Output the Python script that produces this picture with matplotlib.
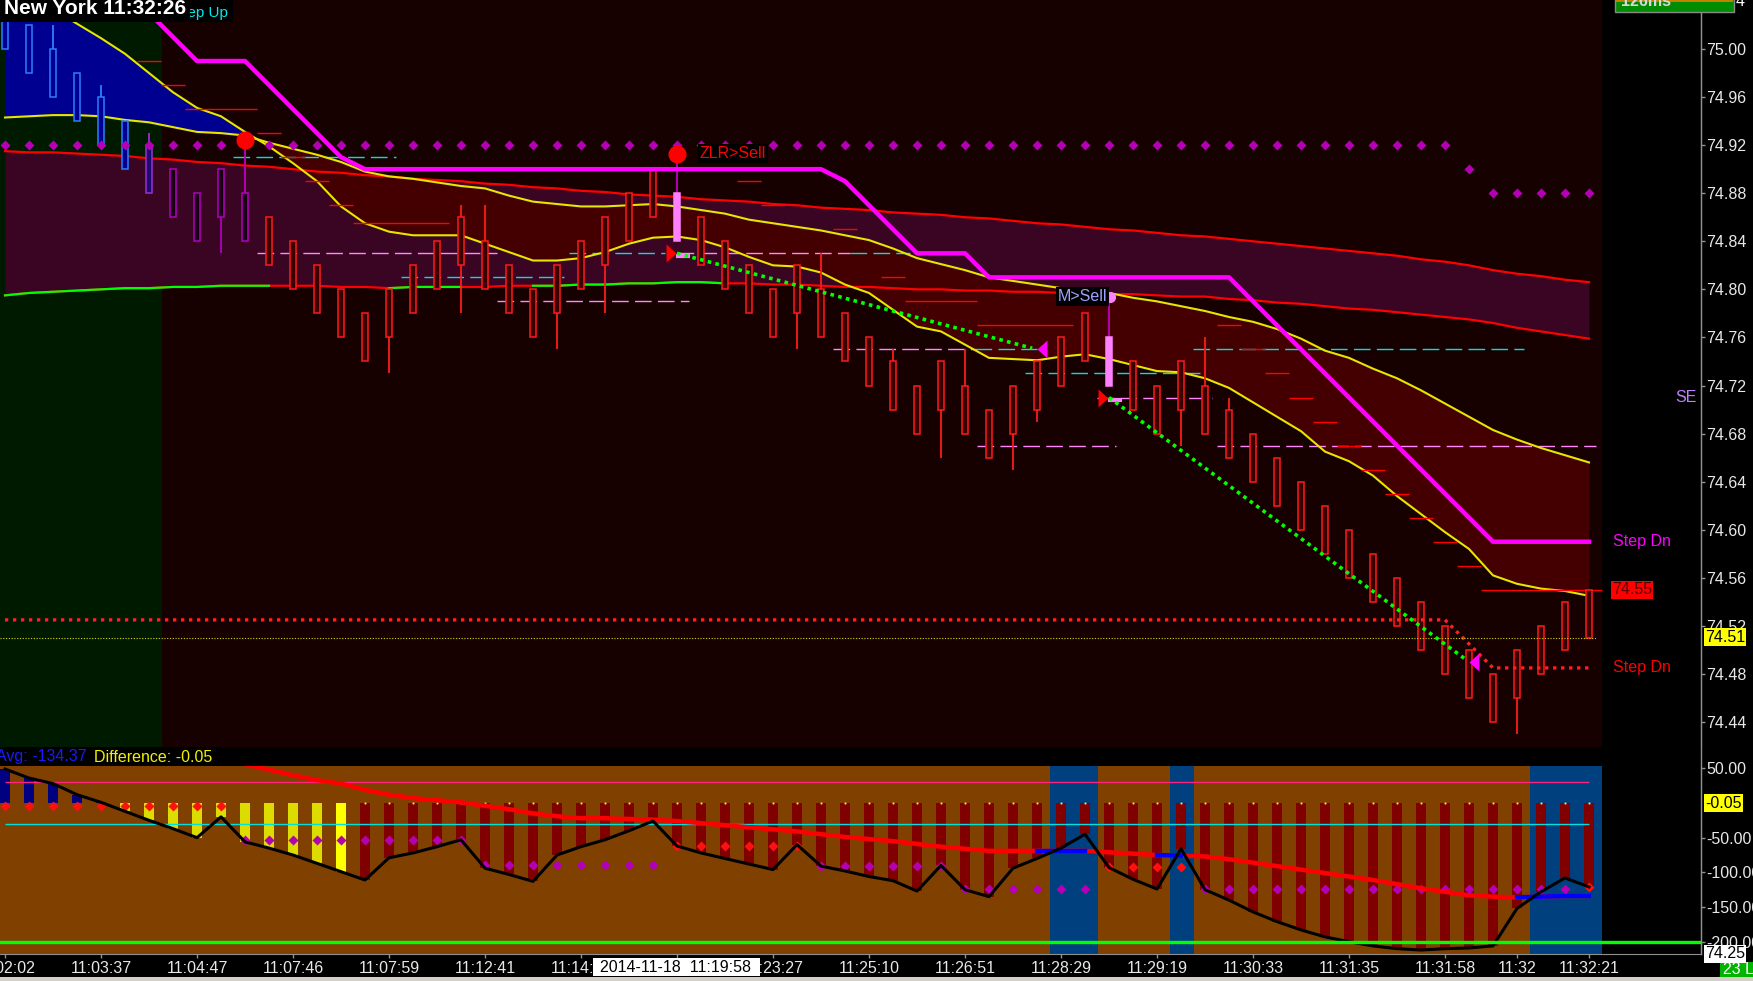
import matplotlib
matplotlib.use("Agg")
import matplotlib.pyplot as plt
from matplotlib.patches import Rectangle
from matplotlib.lines import Line2D
import numpy as np

plt.rcParams['font.family'] = ['Liberation Sans', 'DejaVu Sans']

W, H = 1753, 981          # output size in pixels

# ---------------------------------------------------------------------------
# Data (one entry per bar, bar index 0..66)
# ---------------------------------------------------------------------------
BODY_TOP = [75.04, 75.02, 75.00, 74.98, 74.96, 74.94, 74.92, 74.90, 74.88, 74.90,
            74.88, 74.86, 74.84, 74.82, 74.80, 74.78, 74.80, 74.82, 74.84, 74.86,
            74.84, 74.82, 74.80, 74.82, 74.84, 74.86, 74.88, 74.90, 74.88, 74.86,
            74.84, 74.82, 74.80, 74.82, 74.80, 74.78, 74.76, 74.74, 74.72, 74.74,
            74.72, 74.70, 74.72, 74.74, 74.76, 74.78, 74.76, 74.74, 74.72, 74.74,
            74.72, 74.70, 74.68, 74.66, 74.64, 74.62, 74.60, 74.58, 74.56, 74.54,
            74.52, 74.50, 74.48, 74.50, 74.52, 74.54, 74.55]
BODY_H = 0.04
WICK_HI = {2: 75.02, 4: 74.97, 6: 74.93, 10: 74.924, 19: 74.87, 20: 74.87,
           28: 74.913, 34: 74.83, 37: 74.75, 40: 74.75, 46: 74.794, 50: 74.76,
           51: 74.71}
WICK_LO = {9: 74.83, 16: 74.73, 19: 74.78, 23: 74.75, 25: 74.78, 33: 74.75,
           39: 74.66, 42: 74.65, 43: 74.69, 49: 74.67, 63: 74.43}
# (first bar, last bar, fill, edge)
CANDLE_STYLE = [(0, 5, '#000090', '#2a7fff'), (6, 6, '#1c0a70', '#9a30d0'),
                (7, 10, '#1a0012', '#b000c0'), (11, 66, '#3a0000', '#ff1a1a')]
PINK_BARS = [28, 46]

# fast / slow averages (cloud)
FAST = [75.058, 75.046, 75.033, 75.021, 75.009, 74.996, 74.980, 74.964, 74.951, 74.944,
        74.931, 74.919, 74.905, 74.890, 74.869, 74.855, 74.848, 74.845, 74.845, 74.845,
        74.838, 74.831, 74.824, 74.824, 74.826, 74.831, 74.838, 74.843, 74.844, 74.841,
        74.835, 74.827, 74.820, 74.819, 74.814, 74.804, 74.797, 74.783, 74.769, 74.765,
        74.754, 74.743, 74.742, 74.741, 74.744, 74.746, 74.742, 74.737, 74.732, 74.731,
        74.726, 74.718, 74.706, 74.694, 74.682, 74.665, 74.657, 74.645, 74.628, 74.613,
        74.598, 74.584, 74.562, 74.555, 74.551, 74.549, 74.545]
SLOW = [74.943, 74.944, 74.945, 74.945, 74.944, 74.941, 74.939, 74.935, 74.931, 74.930,
        74.928, 74.922, 74.917, 74.912, 74.906, 74.898, 74.894, 74.892, 74.889, 74.886,
        74.884, 74.878, 74.873, 74.871, 74.869, 74.869, 74.870, 74.871, 74.869, 74.866,
        74.863, 74.858, 74.855, 74.852, 74.849, 74.845, 74.841, 74.834, 74.826, 74.821,
        74.816, 74.810, 74.807, 74.804, 74.801, 74.799, 74.797, 74.793, 74.790, 74.786,
        74.782, 74.777, 74.773, 74.767, 74.759, 74.749, 74.743, 74.734, 74.726, 74.716,
        74.705, 74.694, 74.683, 74.675, 74.668, 74.662, 74.656]

# upper / lower band
BAND_UP = [74.915, 74.914, 74.914, 74.913, 74.912, 74.911, 74.909, 74.908, 74.906, 74.905,
           74.903, 74.902, 74.900, 74.898, 74.897, 74.895, 74.894, 74.892, 74.891, 74.890,
           74.888, 74.887, 74.885, 74.884, 74.882, 74.881, 74.879, 74.878, 74.877, 74.875,
           74.874, 74.873, 74.871, 74.870, 74.868, 74.867, 74.866, 74.864, 74.863, 74.862,
           74.860, 74.859, 74.857, 74.855, 74.854, 74.852, 74.850, 74.849, 74.847, 74.845,
           74.844, 74.842, 74.840, 74.838, 74.836, 74.834, 74.832, 74.830, 74.828, 74.825,
           74.823, 74.820, 74.816, 74.813, 74.811, 74.808, 74.806]
BAND_LO = [74.795, 74.797, 74.798, 74.799, 74.800, 74.801, 74.801, 74.802, 74.802, 74.803,
           74.803, 74.803, 74.803, 74.803, 74.802, 74.802, 74.801, 74.802, 74.802, 74.802,
           74.802, 74.803, 74.803, 74.803, 74.804, 74.804, 74.805, 74.805, 74.806, 74.806,
           74.805, 74.805, 74.804, 74.804, 74.803, 74.802, 74.802, 74.801, 74.800, 74.800,
           74.799, 74.799, 74.798, 74.798, 74.797, 74.797, 74.796, 74.796, 74.795, 74.794,
           74.794, 74.792, 74.791, 74.789, 74.788, 74.786, 74.784, 74.783, 74.781, 74.779,
           74.777, 74.775, 74.772, 74.768, 74.765, 74.762, 74.759]
BAND_LO_GREEN = [(0, 11), (16, 19), (22, 30)]

# magenta step line vertices
STEP_I = [5, 8, 10, 14, 15, 34, 35, 38, 40, 41, 51, 62, 66]
STEP_P = [75.05, 74.99, 74.99, 74.91, 74.90, 74.90, 74.89, 74.83, 74.83, 74.81, 74.81, 74.59, 74.59]

# red dotted "Step Dn" line vertices
STOP_I = [0, 60, 62, 66]
STOP_P = [74.525, 74.525, 74.485, 74.485]

# diamond dots row
DOT_SEGMENTS = [(0, 60, 74.92), (61, 61, 74.90), (62, 66, 74.88)]

# short red marks (first bar, last bar, price)
RED_MARKS = [(6, 6, 74.99), (7, 7, 74.97), (8, 10, 74.95), (11, 11, 74.93), (12, 12, 74.91),
             (13, 13, 74.89), (14, 14, 74.87), (15, 18, 74.855), (31, 31, 74.89),
             (32, 32, 74.87), (35, 35, 74.85), (37, 37, 74.81), (38, 40, 74.79),
             (41, 44, 74.77), (51, 51, 74.77), (52, 52, 74.75), (53, 53, 74.73),
             (54, 54, 74.71), (55, 55, 74.69), (56, 56, 74.67), (57, 57, 74.65),
             (58, 58, 74.63), (59, 59, 74.61), (60, 60, 74.59), (61, 61, 74.57),
             (62, 66, 74.55)]

# dashed level lines (start bar, end bar, price, colour)
PINK, CYAN = '#ff88ff', '#00dede'
LEVELS = [(9.5, 16.3, 74.91, CYAN), (10.5, 20.5, 74.83, PINK), (16.5, 23.3, 74.81, CYAN),
          (20.5, 28.5, 74.79, PINK), (23.5, 27.5, 74.83, CYAN), (28.0, 35.2, 74.83, PINK),
          (35.2, 37.7, 74.83, CYAN), (34.5, 40.4, 74.75, PINK), (40.4, 43.0, 74.75, CYAN),
          (40.5, 46.3, 74.67, PINK), (42.5, 49.8, 74.73, CYAN), (45.5, 50.3, 74.71, PINK),
          (49.5, 63.3, 74.75, CYAN), (50.5, 66.3, 74.67, PINK)]

GREEN_TRENDS = [((28.0, 74.830), (42.8, 74.751)), ((46.0, 74.710), (60.8, 74.493))]
SELL_START = [(27.75, 74.83), (45.75, 74.71)]
SELL_END = [(43.2, 74.75), (61.2, 74.49)]
SIGNAL_DOTS = [(10, 74.924), (28, 74.913)]
LAST_PRICE = 74.51

PRICE_TICKS = [75.00, 74.96, 74.92, 74.88, 74.84, 74.80, 74.76, 74.72,
               74.68, 74.64, 74.60, 74.56, 74.52, 74.48, 74.44]

# lower oscillator panel
HIST = [49, 36, 28, 12, 1, -12, -25, -37, -50, -20,
        -56, -65, -75, -87, -99, -111, -79, -72, -63, -53,
        -94, -103, -113, -75, -63, -53, -40, -26, -62, -72,
        -80, -88, -96, -60, -91, -98, -106, -112, -127, -90,
        -125, -135, -94, -80, -65, -45, -93, -110, -124, -66,
        -125, -140, -157, -171, -183, -193, -200, -206, -210, -212,
        -210, -209, -206, -152, -128, -108, -121]
HIST_STYLE = [(0, 4, '#000080'), (5, 13, '#dcdc00'), (14, 14, '#ffff00'), (15, 66, '#800000')]
AVG_START = 8
AVG = [68, 62, 56, 48, 40, 33, 28, 19, 12, 7,
       4, 1, -4, -9, -15, -19, -22, -22, -23, -24,
       -26, -29, -32, -35, -38, -41, -45, -49, -52, -55,
       -59, -63, -66, -69, -69, -69, -69, -69, -71, -73,
       -75, -76, -77, -81, -86, -91, -96, -101, -106, -111,
       -117, -123, -128, -133, -135, -136, -135, -134, -134]
AVG_BLUE = [(43, 45), (48, 49), (63, 66)]
BLUE_ZONES = [(44, 45), (49, 49), (64, 66)]
LOW_DIAMONDS = [(0, 9, -5, '#ff1010'), (10, 19, -54, '#b400b4'), (20, 27, -90, '#b400b4'),
                (28, 33, -62, '#ff1010'), (34, 39, -91, '#b400b4'), (40, 45, -124, '#b400b4'),
                (46, 49, -92, '#ff1010'), (50, 65, -124, '#b400b4'), (66, 66, -121, '#ff1010')]
LOW_TICKS = [50, -50, -100, -150, -200]

TIME_TICKS = [0, 4, 8, 12, 16, 20, 24, 28, 32, 36, 40, 44, 48, 52, 56, 60, 63, 66]
TIME_LABELS = ["11:02:02", "11:03:37", "11:04:47", "11:07:46", "11:07:59", "11:12:41",
               "11:14:40", "11:19:58", "11:23:27", "11:25:10", "11:26:51", "11:28:29",
               "11:29:19", "11:30:33", "11:31:35", "11:31:58", "11:32", "11:32:21"]


# ---------------------------------------------------------------------------
# helpers
# ---------------------------------------------------------------------------
def to_i(x_px):
    """pixel column -> bar index"""
    return (x_px - 5) / 24.0


def px_rect(fig, x0, y0, x1, y1, **kw):
    fig.add_artist(Rectangle((x0 / W, 1 - y1 / H), (x1 - x0) / W, (y1 - y0) / H,
                             transform=fig.transFigure, **kw))


def px_text(fig, x, y, s, **kw):
    fig.text(x / W, 1 - y / H, s, **kw)


def by_ranges(styles, n):
    out = [None] * n
    for st in styles:
        for k in range(st[0], st[1] + 1):
            out[k] = st[2:] if len(st) > 3 else st[2]
    return out


TRI_RIGHT = [(-0.55, -1), (-0.55, 1), (0.55, 0)]
TRI_LEFT = [(0.55, -1), (0.55, 1), (-0.55, 0)]

X_LEFT, X_RIGHT = to_i(0), to_i(1701)
X_PANEL, X_GREEN = to_i(1602), to_i(162)
P_TOP, P_BOT = 75.0 + 49 / 1201.8, 75.0 - 698 / 1201.8
V_TOP, V_BOT = (803.0 - 766) / 0.6936, (803.0 - 954) / 0.6936
FS = 11.5


def main():
    n = len(BODY_TOP)
    idx = np.arange(n)
    top = np.array(BODY_TOP)
    bot = top - BODY_H

    fig = plt.figure(figsize=(W / 100, H / 100), dpi=100, facecolor='black')
    ax = fig.add_axes([0, 1 - 747 / H, 1701 / W, 747 / H])
    axl = fig.add_axes([0, 1 - 954 / H, 1701 / W, 188 / H])

    # ---------------- price panel ----------------
    ax.set_facecolor('black')
    ax.set_xlim(X_LEFT, X_RIGHT)
    ax.set_ylim(P_BOT, P_TOP)
    ax.axvspan(X_LEFT, X_PANEL, color='#170000', lw=0, zorder=0)
    ax.axvspan(X_LEFT, X_GREEN, color='#001a00', lw=0, zorder=0.1)

    band_up, band_lo = np.array(BAND_UP), np.array(BAND_LO)
    ax.fill_between(idx, band_up, band_lo, color='#3a0522', lw=0, zorder=1)
    fast, slow = np.array(FAST), np.array(SLOW)
    ax.fill_between(idx, fast, slow, where=fast >= slow, interpolate=True,
                    color='#000090', lw=0, zorder=1.5)
    ax.fill_between(idx, fast, slow, where=fast < slow, interpolate=True,
                    color='#440000', lw=0, zorder=1.5)

    for a, b, p, c in LEVELS:
        ax.hlines(p, a, b, colors=c, lw=1.0, linestyles=(0, (12, 4.5)), zorder=3)

    ax.plot(idx, band_up, color='#ff0000', lw=1.6, zorder=4)
    ax.plot(idx, band_lo, color='#ff0000', lw=1.6, zorder=4)
    for a, b in BAND_LO_GREEN:
        ax.plot(idx[a:b + 1], band_lo[a:b + 1], color='#00ff00', lw=1.6, zorder=4.1)
    ax.plot(idx, fast, color='#e6e600', lw=1.5, zorder=4.2)
    ax.plot(idx, slow, color='#e6e600', lw=1.5, zorder=4.2)

    for a, b, p in RED_MARKS:
        x1 = X_PANEL if b == n - 1 else b + 0.5
        ax.hlines(p, a - 0.5, x1, colors='#ff0000', lw=1.0, zorder=4.3)

    # candles
    styles = by_ranges(CANDLE_STYLE, n)
    fills = [s[0] for s in styles]
    edges = [s[1] for s in styles]
    for k in PINK_BARS:
        fills[k], edges[k] = '#ff80ff', '#ff80ff'
    wick_col = list(edges)
    for k in PINK_BARS + [10]:
        wick_col[k] = '#c000c0'
    for k, h in WICK_HI.items():
        ax.vlines(k, top[k], h, colors=wick_col[k], lw=1.3, zorder=4.9)
    for k, lo in WICK_LO.items():
        ax.vlines(k, lo, bot[k], colors=wick_col[k], lw=1.3, zorder=4.9)
    ax.bar(idx, BODY_H, bottom=bot, width=0.29, color=fills, edgecolor=edges,
           linewidth=1.1, zorder=5)
    for k in PINK_BARS:
        ax.hlines(bot[k] - 0.012, k - 0.05, k + 0.55, colors='#ff80ff', lw=3, zorder=5.1)

    ax.plot(STEP_I, STEP_P, color='#ff00ff', lw=3.2, zorder=6)

    for a, b, p in DOT_SEGMENTS:
        xs = idx[a:b + 1]
        ax.plot(xs, [p] * len(xs), ls='none', marker='D', ms=5.5, color='#b400b4',
                mec='none', zorder=6.5)

    ax.plot(STOP_I, STOP_P, color='#ff2020', lw=2.4, ls=(0, (1, 1.4)), zorder=6.6)
    ax.hlines(LAST_PRICE, X_LEFT, to_i(1597), colors='#d8d800', lw=0.8,
              linestyles=(0, (1, 1.5)), zorder=6.6)

    for (x0, p0), (x1, p1) in GREEN_TRENDS:
        ax.plot([x0, x1], [p0, p1], color='#00ff00', lw=2.6, ls=(0, (1, 1.2)), zorder=7)
    for x, p in SELL_START:
        ax.plot(x, p, ls='none', marker=TRI_RIGHT, ms=13, color='#ff0000', mec='none', zorder=7.5)
    for x, p in SELL_END:
        ax.plot(x, p, ls='none', marker=TRI_LEFT, ms=13, color='#ff00ff', mec='none', zorder=7.5)
    for x, p in SIGNAL_DOTS:
        ax.plot(x, p, ls='none', marker='o', ms=13, color='#ff0000', mec='none', zorder=8)

    # signal labels
    ax.plot(46.05, 74.794, ls='none', marker='o', ms=8, color='#ff80ff', mec='none', zorder=8)
    ax.text(to_i(700), 74.913, "ZLR>Sell", color='#ff0000', fontsize=FS, ha='left',
            va='center', zorder=9,
            bbox=dict(boxstyle='square,pad=0.1', fc='black', ec='none'))
    ax.text(to_i(1107), 74.794, "M>Sell", color='#a0a0ff', fontsize=FS, ha='right',
            va='center', zorder=9,
            bbox=dict(boxstyle='square,pad=0.1', fc='black', ec='none'))
    ax.text(to_i(1613), 74.59, "Step Dn", color='#ff00ff', fontsize=FS, ha='left',
            va='center', zorder=9)
    ax.text(to_i(1613), 74.485, "Step Dn", color='#ff0000', fontsize=FS, ha='left',
            va='center', zorder=9)
    ax.text(to_i(1697), 74.71, "SE", color='#c080ff', fontsize=FS, ha='right',
            va='center', zorder=9)
    ax.text(to_i(1632), 74.55, "74.55", color='#5a0000', fontsize=FS, ha='center',
            va='center', zorder=9,
            bbox=dict(boxstyle='square,pad=0.08', fc='#ff0000', ec='none'))

    ax.set_xticks([])
    ax.yaxis.tick_right()
    ax.set_yticks(PRICE_TICKS)
    ax.set_yticklabels([f"{v:.2f}" for v in PRICE_TICKS])
    ax.tick_params(axis='y', colors='#909090', labelcolor='#e8e8e8', labelsize=FS,
                   length=3, width=1, pad=1)
    for s in ('top', 'left', 'bottom'):
        ax.spines[s].set_visible(False)
    ax.spines['right'].set_color('#909090')

    # ---------------- oscillator panel ----------------
    axl.set_facecolor('black')
    axl.set_xlim(X_LEFT, X_RIGHT)
    axl.set_ylim(V_BOT, V_TOP)
    axl.axvspan(X_LEFT, X_PANEL, color='#7f4000', lw=0, zorder=0)
    for a, b in BLUE_ZONES:
        axl.axvspan(a - 0.46, min(b + 0.54, X_PANEL), color='#00407f', lw=0, zorder=0.1)

    hist = np.array(HIST)
    axl.bar(idx, hist, width=0.42, color=by_ranges(HIST_STYLE, n), lw=0, zorder=2)
    axl.plot(idx[15:], np.zeros(n - 15), ls='none', marker='s', ms=1.3, color='#ffff60',
             mec='none', zorder=2.1)
    axl.hlines(30, 0, n - 1, colors='#ff2080', lw=1.0, zorder=3)
    axl.hlines(-30, 0, n - 1, colors='#00e0e0', lw=1.0, zorder=3)
    for a, b, v, c in LOW_DIAMONDS:
        xs = idx[a:b + 1]
        axl.plot(xs, [v] * len(xs), ls='none', marker='D', ms=5, color=c, mec='none',
                 zorder=3.5)
    avg = np.array(AVG)
    axl.plot(idx[AVG_START:], avg, color='#ff0000', lw=3.2, zorder=4)
    for a, b in AVG_BLUE:
        axl.plot(idx[a:b + 1], avg[a - AVG_START:b - AVG_START + 1], color='#0000ff',
                 lw=3.2, zorder=4.1)
    axl.plot(idx, hist, color='black', lw=2.2, zorder=5)
    axl.axhline(-200, color='#00ff00', lw=2.4, zorder=6)

    axl.yaxis.tick_right()
    axl.set_yticks(LOW_TICKS)
    axl.set_yticklabels([f"{v:.2f}" for v in LOW_TICKS])
    axl.set_xticks(TIME_TICKS)
    axl.set_xticklabels(TIME_LABELS)
    axl.tick_params(axis='both', colors='#909090', labelcolor='#e8e8e8', labelsize=FS,
                    length=3, width=1)
    axl.tick_params(axis='y', pad=1)
    axl.tick_params(axis='x', pad=2)
    for s in ('top', 'left'):
        axl.spines[s].set_visible(False)
    axl.spines['right'].set_color('#909090')
    axl.spines['bottom'].set_color('#909090')

    # ---------------- figure-level decorations ----------------
    fig.add_artist(Line2D([1700.5 / W] * 2, [1 - 12 / H, 1 - 954 / H], color='#909090',
                          lw=1, transform=fig.transFigure))

    # title strip
    px_rect(fig, 0, 0, 233, 22, fc='black', ec='none', zorder=1)
    px_text(fig, 228, 13, "Step Up", color='#00e8e8', fontsize=11, ha='right',
            va='center', zorder=2)
    px_rect(fig, 0, 0, 190, 22, fc='black', ec='none', zorder=3)
    px_text(fig, 4, 9, "New York 11:32:26", color='white', fontsize=15,
            fontweight='bold', ha='left', va='center', zorder=4)

    # latency box top right
    px_rect(fig, 1615, -2, 1734, 12, fc='#008c00', ec='#8a8a8a', lw=1, zorder=2)
    px_rect(fig, 1616, 0, 1733, 1.5, fc='#c08000', ec='none', zorder=2.5)
    px_text(fig, 1621, 2, "126ms", color='#d8d8d8', fontsize=FS, fontweight='bold',
            ha='left', va='center', zorder=3)
    px_text(fig, 1736, 2, "4", color='white', fontsize=FS, ha='left', va='center', zorder=3)

    # oscillator header
    px_text(fig, -4, 757, "Avg: -134.37", color='#1a1aff', fontsize=FS, ha='left',
            va='center')
    px_text(fig, 94, 757, "Difference: -0.05", color='#f0f000', fontsize=FS, ha='left',
            va='center')

    # axis flags
    px_text(fig, 1705, 637, "74.51", color='black', fontsize=FS, ha='left', va='center',
            zorder=5, bbox=dict(boxstyle='square,pad=0.08', fc='#ffff00', ec='none'))
    px_text(fig, 1705, 803, "-0.05", color='black', fontsize=FS, ha='left', va='center',
            zorder=5, bbox=dict(boxstyle='square,pad=0.08', fc='#ffff00', ec='none'))
    px_text(fig, 1705, 954, "74.25", color='black', fontsize=FS, ha='left', va='center',
            zorder=5, bbox=dict(boxstyle='square,pad=0.08', fc='white', ec='none'))
    px_rect(fig, 1720, 962, 1753, 977, fc='#00b400', ec='none', zorder=5)
    px_text(fig, 1723, 970, "23 L", color='white', fontsize=FS, ha='left', va='center',
            zorder=6)

    # crosshair date box
    px_rect(fig, 593, 958, 760, 976, fc='white', ec='none', zorder=5)
    px_text(fig, 676, 967, "2014-11-18  11:19:58", color='black', fontsize=FS,
            ha='center', va='center', zorder=6)

    # window border at bottom
    px_rect(fig, 0, 977, W, 982, fc='#d4d0c8', ec='none', zorder=4)

    fig.savefig("out.png", dpi=100, facecolor='black')
    plt.close(fig)


if __name__ == "__main__":
    main()
